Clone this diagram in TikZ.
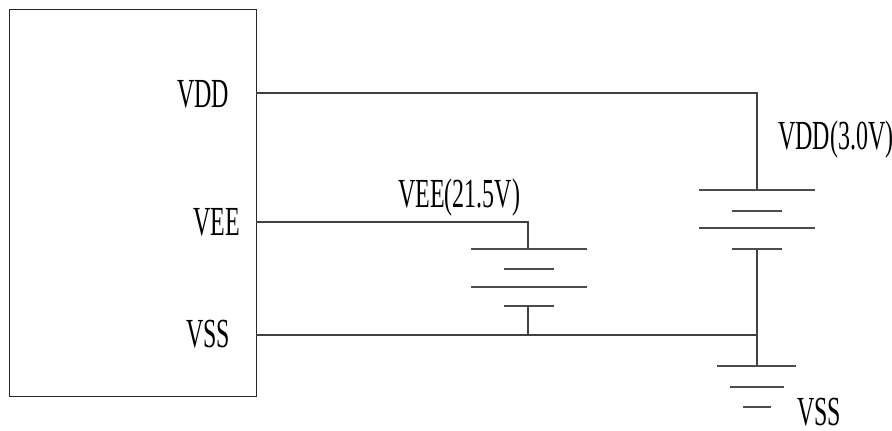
\documentclass[tikz,border=0pt]{standalone}
\usepackage{fontspec}
\setmainfont{Liberation Serif}[FakeStretch=0.58]

\begin{document}
\begin{tikzpicture}[x=0.75pt,y=-0.75pt,
  wire/.style={line width=0.9pt, draw=black!75},
  plate/.style={line width=0.9pt, draw=black!70},
  lbl/.style={inner sep=0pt, anchor=base west, font=\fontsize{31}{31}\selectfont}]
  \useasboundingbox (0,0) rectangle (892,431);
  % module outline
  \node[draw=black!85, line width=0.9pt, minimum width=185.25pt, minimum height=290.25pt,
    inner sep=0pt, anchor=north west] (lcd) at (9,9) {};
  % pin labels
  \node[lbl] (vdd) at (177,108) {VDD};
  \node[lbl] (vee) at (193,235) {VEE};
  \node[lbl] (vss) at (186,347) {VSS};
  \node[lbl] (veebat) at (398,208) {VEE(21.5V)};
  \node[lbl] (vddbat) at (778,150) {VDD(3.0V)};
  \node[lbl] (vssgnd) at (797,425) {VSS};
  % pins and terminals
  \coordinate (pdd) at (256,93);
  \coordinate (pee) at (256,222);
  \coordinate (pss) at (256,335);
  \coordinate (eetop) at (528,249);
  \coordinate (eebot) at (528,306);
  \coordinate (ddtop) at (757,190);
  \coordinate (ddbot) at (757,249);
  \coordinate (gnd) at (757,335);
  \coordinate (gndtop) at (757,366);
  % wiring
  \draw[wire] (pdd) -| (ddtop);
  \draw[wire] (pee) -| (eetop);
  \draw[wire] (pss) -- (gnd);
  \draw[wire] (eebot) -- (eebot |- pss);
  \draw[wire] (ddbot) -- (gndtop);
  % VEE battery
  \draw[plate] (471,249) -- (587,249);
  \draw[plate] (504,269) -- (554,269);
  \draw[plate] (471,287) -- (587,287);
  \draw[plate] (504,306) -- (554,306);
  % VDD battery
  \draw[plate] (699,190) -- (815,190);
  \draw[plate] (732,211) -- (782,211);
  \draw[plate] (699,228) -- (815,228);
  \draw[plate] (732,249) -- (782,249);
  % ground
  \draw[plate] (717,366) -- (796,366);
  \draw[plate] (730,387) -- (784,387);
  \draw[plate] (743,407) -- (771,407);
\end{tikzpicture}
\end{document}
